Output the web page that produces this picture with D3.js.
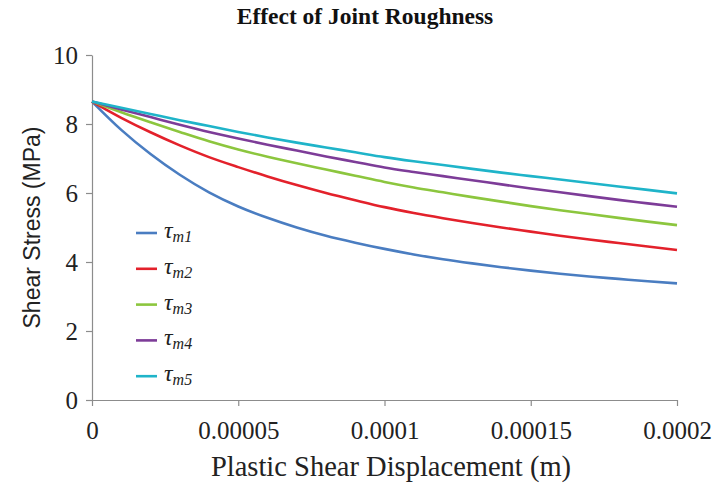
<!DOCTYPE html>
<html>
<head>
<meta charset="utf-8">
<script src="https://cdn.jsdelivr.net/npm/d3@7"></script>
<style>
  html, body { margin: 0; padding: 0; background: #fff; }
  svg { display: block; }
</style>
</head>
<body>
<svg id="chart" width="714" height="487"></svg>
<script>
// Plastic shear displacement (m)
const displacement = [0, 0.00001, 0.00002, 0.00003, 0.00004, 0.00005, 0.00006, 0.00007,
  0.00008, 0.00009, 0.0001, 0.00011, 0.00012, 0.00013, 0.00014, 0.00015,
  0.00016, 0.00017, 0.00018, 0.00019, 0.0002];

// Shear stress (MPa) for each roughness case
const tauM1 = [8.65, 7.83, 7.13, 6.53, 6.02, 5.61, 5.28, 5.00, 4.76, 4.56, 4.38,
  4.22, 4.08, 3.96, 3.85, 3.75, 3.66, 3.58, 3.51, 3.44, 3.38];
const tauM2 = [8.65, 8.18, 7.76, 7.38, 7.04, 6.75, 6.48, 6.23, 6.00, 5.79, 5.59,
  5.42, 5.27, 5.13, 5.00, 4.88, 4.76, 4.65, 4.55, 4.45, 4.35];
const tauM3 = [8.65, 8.34, 8.05, 7.77, 7.50, 7.26, 7.05, 6.86, 6.68, 6.50, 6.32,
  6.16, 6.02, 5.88, 5.75, 5.62, 5.50, 5.39, 5.28, 5.17, 5.07];
const tauM4 = [8.65, 8.42, 8.20, 7.98, 7.77, 7.58, 7.40, 7.23, 7.06, 6.90, 6.74,
  6.61, 6.49, 6.37, 6.25, 6.13, 6.02, 5.91, 5.80, 5.70, 5.60];
const tauM5 = [8.65, 8.47, 8.29, 8.11, 7.94, 7.77, 7.61, 7.46, 7.32, 7.18, 7.04,
  6.92, 6.81, 6.70, 6.59, 6.49, 6.39, 6.29, 6.19, 6.09, 5.99];

const seriesSub = ["m1", "m2", "m3", "m4", "m5"];
const seriesValues = [tauM1, tauM2, tauM3, tauM4, tauM5];
const seriesColors = ["#4A7DC1", "#E3212B", "#8CC63E", "#7D3C98", "#1FB4C9"];

const xTicks = [0, 0.00005, 0.0001, 0.00015, 0.0002];
const xTickLabels = ["0", "0.00005", "0.0001", "0.00015", "0.0002"];
const yTicks = [0, 2, 4, 6, 8, 10];

const svg = d3.select("#chart");
const margin = { left: 92, right: 37, top: 55, bottom: 87 };
const W = 714, H = 487;

const x = d3.scaleLinear().domain([0, 0.0002]).range([margin.left, W - margin.right]);
const y = d3.scaleLinear().domain([0, 10]).range([H - margin.bottom, margin.top]);

const axisColor = "#8c8c8c";
const serif = "'Liberation Serif', 'Times New Roman', serif";
const sans = "'Liberation Sans', Arial, sans-serif";

// Title
svg.append("text")
  .attr("x", 365).attr("y", 24)
  .attr("text-anchor", "middle")
  .attr("font-family", serif)
  .attr("font-weight", "bold")
  .attr("font-size", 23.5)
  .attr("fill", "#111")
  .text("Effect of Joint Roughness");

// X axis
const xAxis = d3.axisBottom(x)
  .tickValues(xTicks)
  .tickSize(6)
  .tickSizeOuter(0)
  .tickPadding(15)
  .tickFormat((d, i) => xTickLabels[i]);
const gx = svg.append("g")
  .attr("transform", `translate(0,${y(0)})`)
  .call(xAxis);
gx.select(".domain").attr("stroke", axisColor).attr("stroke-width", 1.2);
gx.selectAll(".tick line").attr("stroke", axisColor).attr("stroke-width", 1.2);
gx.selectAll(".tick text")
  .attr("font-family", serif).attr("font-size", 25).attr("fill", "#222");

// Y axis
const yAxis = d3.axisLeft(y)
  .tickValues(yTicks)
  .tickSize(6)
  .tickSizeOuter(0)
  .tickPadding(8)
  .tickFormat(d3.format("d"));
const gy = svg.append("g")
  .attr("transform", `translate(${x(0)},0)`)
  .call(yAxis);
gy.select(".domain").attr("stroke", axisColor).attr("stroke-width", 1.2);
gy.selectAll(".tick line").attr("stroke", axisColor).attr("stroke-width", 1.2);
gy.selectAll(".tick text")
  .attr("font-family", serif).attr("font-size", 25).attr("fill", "#222");

// Axis titles
svg.append("text")
  .attr("x", 391).attr("y", 476)
  .attr("text-anchor", "middle")
  .attr("font-family", serif)
  .attr("font-size", 28.5)
  .attr("fill", "#222")
  .text("Plastic Shear Displacement (m)");

svg.append("text")
  .attr("transform", `translate(40,${(y(0) + y(10)) / 2}) rotate(-90)`)
  .attr("text-anchor", "middle")
  .attr("font-family", sans)
  .attr("font-size", 23)
  .attr("fill", "#222")
  .text("Shear Stress (MPa)");

// Curves
const line = d3.line()
  .x((d, i) => x(displacement[i]))
  .y(d => y(d))
  .curve(d3.curveMonotoneX);

svg.append("g").selectAll("path")
  .data(seriesValues)
  .join("path")
  .attr("d", d => line(d))
  .attr("fill", "none")
  .attr("stroke", (d, i) => seriesColors[i])
  .attr("stroke-width", 2.6)
  .attr("stroke-linejoin", "round");

// Legend
const legend = svg.append("g");
const legendTop = 233, legendStep = 35.8;
seriesSub.forEach((sub, i) => {
  const ly = legendTop + i * legendStep;
  legend.append("line")
    .attr("x1", 136).attr("x2", 157)
    .attr("y1", ly).attr("y2", ly)
    .attr("stroke", seriesColors[i])
    .attr("stroke-width", 2.6);
  const t = legend.append("text")
    .attr("x", 164).attr("y", ly + 5)
    .attr("font-family", serif)
    .attr("font-style", "italic")
    .attr("font-size", 24)
    .attr("fill", "#222");
  t.append("tspan").text("\u03C4");
  t.append("tspan")
    .attr("font-size", 16)
    .attr("dy", 4)
    .text(sub);
});
</script>
</body>
</html>
